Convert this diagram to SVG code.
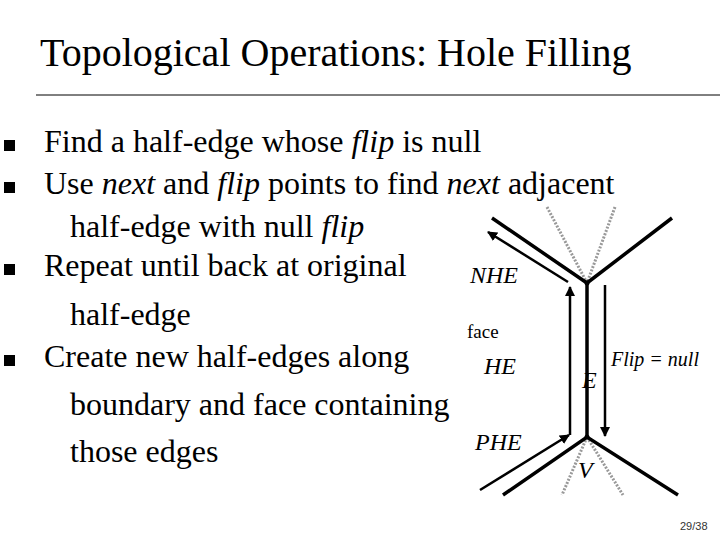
<svg xmlns="http://www.w3.org/2000/svg" width="720" height="540" viewBox="0 0 720 540">
<defs>
<style>
.t{font-family:'Liberation Serif','Times New Roman',serif;fill:#000}
.e{stroke:#000;stroke-width:3.5;fill:none}
.g{stroke:#999;stroke-width:3;stroke-dasharray:2 1.5;fill:none}
.a{stroke:#000;stroke-width:2.5;fill:none;marker-end:url(#ah)}
.m{font-family:'Liberation Serif','Times New Roman',serif;font-style:italic;fill:#000}
</style>
<marker id="ah" viewBox="0 0 10 10" refX="9" refY="5" markerWidth="4" markerHeight="4" orient="auto"><path d="M0,0L10,5L0,10z" fill="#000"/></marker>
</defs>
<rect width="720" height="540" fill="#fff"/>
<text class="t" font-family="Liberation Serif, serif" x="40" y="66" font-size="40">Topological Operations: Hole Filling</text>
<line x1="36" y1="95" x2="720" y2="95" stroke="#000" stroke-width="1"/>
<g id="bullets" class="t" font-family="Liberation Serif, serif" font-size="32">
<rect x="4" y="140" width="11" height="11" fill="#000"/>
<text x="44" y="152">Find a half-edge whose <tspan font-style="italic">flip</tspan> is null</text>
<rect x="4" y="182" width="11" height="11" fill="#000"/>
<text x="44" y="194">Use <tspan font-style="italic">next</tspan> and <tspan font-style="italic">flip</tspan> points to find <tspan font-style="italic">next</tspan> adjacent</text>
<text x="70" y="237">half-edge with null <tspan font-style="italic">flip</tspan></text>
<rect x="4" y="264" width="11" height="11" fill="#000"/>
<text x="44" y="276">Repeat until back at original</text>
<text x="70" y="325">half-edge</text>
<rect x="4" y="355" width="11" height="11" fill="#000"/>
<text x="44" y="367">Create new half-edges along</text>
<text x="70" y="415">boundary and face containing</text>
<text x="70" y="462">those edges</text>
</g>
<g id="mesh">
<line class="g" x1="547" y1="207" x2="587" y2="283"/>
<line class="g" x1="615" y1="207" x2="587" y2="283"/>
<line class="g" x1="587" y1="437" x2="562" y2="495"/>
<line class="g" x1="587" y1="437" x2="623" y2="495"/>
<polyline class="e" points="492,218 587,283 672,218"/>
<line class="e" x1="587" y1="283" x2="587" y2="437"/>
<polyline class="e" points="503,495 587,437 678,495"/>
<circle cx="587" cy="283" r="2.5"/><circle cx="587" cy="437" r="2.5"/>
</g>
<g id="connectors">
<line class="a" x1="480" y1="490" x2="569" y2="435"/>
<line class="a" x1="570" y1="435" x2="570" y2="287"/>
<line class="a" x1="568" y1="282" x2="488" y2="232"/>
<line class="a" x1="605" y1="285" x2="605" y2="436"/>
</g>
<g id="labels" font-family="Liberation Serif, serif">
<text class="m" x="470" y="283" font-size="24">NHE</text>
<text class="t" x="467" y="338" font-size="19">face</text>
<text class="m" x="484" y="374" font-size="24">HE</text>
<text class="m" x="582" y="388" font-size="24">E</text>
<text class="m" x="611" y="366" font-size="20">Flip = null</text>
<text class="m" x="475" y="450" font-size="24">PHE</text>
<text class="m" x="578" y="478" font-size="24">V</text>
</g>
<text font-family="Liberation Sans,sans-serif" font-size="11" x="680" y="530" fill="#333">29/38</text>
</svg>
